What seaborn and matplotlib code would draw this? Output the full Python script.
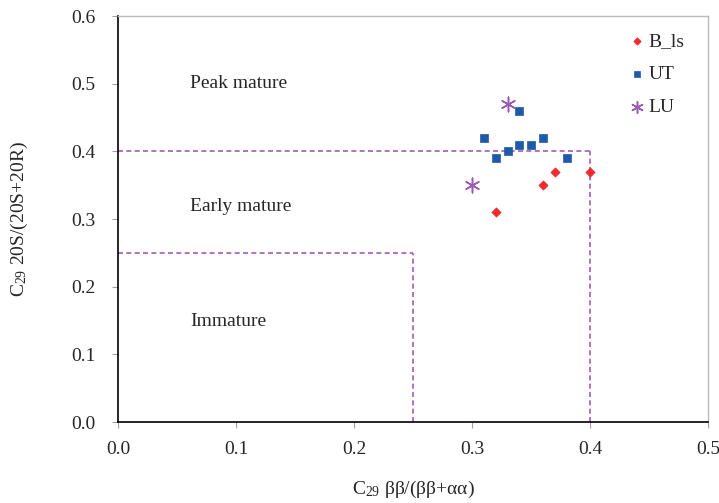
import matplotlib
matplotlib.use("Agg")
import matplotlib.pyplot as plt
import pandas as pd
import seaborn as sns

# data
bls_x = [0.32, 0.36, 0.37, 0.40]
bls_y = [0.31, 0.35, 0.37, 0.37]
ut_x = [0.31, 0.32, 0.33, 0.34, 0.34, 0.35, 0.36, 0.38]
ut_y = [0.42, 0.39, 0.40, 0.46, 0.41, 0.41, 0.42, 0.39]
lu_x = [0.33, 0.30]
lu_y = [0.47, 0.35]

# maturity zone boundaries
peak_limit = 0.40
early_limit = 0.25

sns.set_style("white")
plt.rcParams['font.family'] = ['Liberation Serif', 'DejaVu Serif']
plt.rcParams['mathtext.fontset'] = 'custom'
plt.rcParams['mathtext.rm'] = 'Liberation Serif'
plt.rcParams['mathtext.it'] = 'Liberation Serif:italic'

df = pd.concat([
    pd.DataFrame({'x': bls_x, 'y': bls_y, 'group': 'B_ls'}),
    pd.DataFrame({'x': ut_x, 'y': ut_y, 'group': 'UT'}),
    pd.DataFrame({'x': lu_x, 'y': lu_y, 'group': 'LU'}),
])

fig = plt.figure(figsize=(7.19, 5.03), dpi=100)
ax = fig.add_axes([0.164, 0.161, 0.821, 0.807])

zone_color = '#A35BB5'
for lim in [peak_limit, early_limit]:
    ax.plot([0, lim], [lim, lim], ls=(0, (3, 2)), color=zone_color, lw=1.2, zorder=1)
    ax.plot([lim, lim], [0, lim], ls=(0, (3, 2)), color=zone_color, lw=1.2, zorder=1)

palette = {'B_ls': '#F02A2A', 'UT': '#1F5AA8', 'LU': '#9D5AB4'}
markers = {'B_ls': 'D', 'UT': 's', 'LU': (6, 2, 0)}
sizes = {'B_ls': 22, 'UT': 30, 'LU': 110}
for g in ['B_ls', 'UT', 'LU']:
    sub = df[df['group'] == g]
    sns.scatterplot(data=sub, x='x', y='y', ax=ax, color=palette[g],
                    marker=markers[g], s=sizes[g], label=g,
                    edgecolor=palette[g] if g != 'LU' else None,
                    linewidth=0.5 if g != 'LU' else 1.1, zorder=3)

ax.text(0.061, 0.50, 'Peak mature', fontsize=14, va='center')
ax.text(0.061, 0.318, 'Early mature', fontsize=14, va='center')
ax.text(0.061, 0.148, 'Immature', fontsize=14, va='center')

ax.set_xlim(0, 0.5)
ax.set_ylim(0, 0.6)
ax.set_xticks([0, 0.1, 0.2, 0.3, 0.4, 0.5])
ax.set_yticks([0, 0.1, 0.2, 0.3, 0.4, 0.5, 0.6])
ax.xaxis.set_major_formatter(matplotlib.ticker.FormatStrFormatter('%.1f'))
ax.yaxis.set_major_formatter(matplotlib.ticker.FormatStrFormatter('%.1f'))
ax.tick_params(labelsize=14, length=4, color='#A0A0A0', direction='out',
               bottom=True, left=True)
ax.tick_params(axis='y', pad=12)
ax.tick_params(axis='x', pad=10)

for side in ['left', 'bottom']:
    ax.spines[side].set_color('black')
    ax.spines[side].set_linewidth(1.2)
for side in ['top', 'right']:
    ax.spines[side].set_color('#BBBBBB')
    ax.spines[side].set_linewidth(1.0)

ax.set_xlabel('C$_{29}$ ββ/(ββ+αα)', fontsize=14, labelpad=15)
ax.set_ylabel('C$_{29}$ 20S/(20S+20R)', fontsize=14, labelpad=30)

leg = ax.legend(loc='upper right', bbox_to_anchor=(0.99, 1.003), frameon=False,
                fontsize=14, handletextpad=0.0, labelspacing=0.8,
                handlelength=1.2, markerscale=0.8)

fig.savefig('out.png', dpi=100)
